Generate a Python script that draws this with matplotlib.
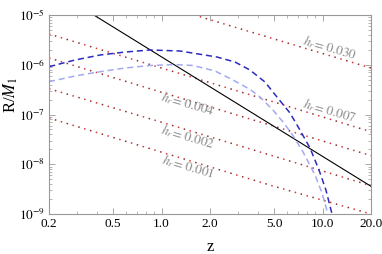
import numpy as np
import matplotlib.pyplot as plt
from matplotlib.ticker import FixedLocator, NullFormatter, LogLocator

plt.rcParams['font.family'] = ['Liberation Serif', 'DejaVu Serif']
plt.rcParams['mathtext.fontset'] = 'stix'

# red dotted curves, one per h_r (values read at z = 0.2, 1, 5, 20)
z_h = [0.2, 1.0, 5.0, 20.0]
h_vals = ['0.030', '0.007', '0.004', '0.002', '0.001']
r_h030 = [7.6e-5, 1.58e-5, 3.3e-6, 8.6e-7]
r_h007 = [4.15e-6, 8.6e-7, 1.78e-7, 4.5e-8]
r_h004 = [1.37e-6, 2.8e-7, 5.8e-8, 1.49e-8]
r_h002 = [3.3e-7, 7.0e-8, 1.45e-8, 3.7e-9]
r_h001 = [8.5e-8, 1.75e-8, 3.6e-9, 1.0e-9]

# black solid line
z_black = [0.2, 20.0]
r_black = [3.6e-5, 3.6e-9]

# dark blue dashed
z_dark = [0.2, 0.29, 0.415, 0.593, 0.848, 1.30, 2.21, 2.86, 3.54, 4.39, 5.21,
          6.28, 7.24, 8.36, 9.51, 10.5, 11.45, 12.1]
r_dark = [9.14e-7, 1.245e-6, 1.57e-6, 1.80e-6, 1.98e-6, 1.89e-6, 1.43e-6,
          1.135e-6, 7.84e-7, 4.5e-7, 2.25e-7, 1.07e-7, 4.88e-8, 2.12e-8,
          7.66e-9, 3.03e-9, 1.0e-9, 5e-10]

# light blue dashed
z_light = [0.2, 0.29, 0.415, 0.593, 0.848, 1.213, 1.57, 2.15, 2.78, 3.54, 4.09,
           4.92, 5.68, 6.46, 7.57, 8.98, 9.93, 10.8, 11.4]
r_light = [4.56e-7, 5.94e-7, 7.25e-7, 8.6e-7, 9.66e-7, 1.01e-6, 9.66e-7,
           7.49e-7, 4.94e-7, 3.2e-7, 2.25e-7, 1.23e-7, 7.07e-8, 4.05e-8,
           1.76e-8, 6.08e-9, 2.64e-9, 1.0e-9, 5e-10]

fig = plt.figure(figsize=(3.82, 2.54), dpi=100)
ax = fig.add_axes([49/382, 1-214/254, 322/382, 199/254])

red_curves = [r_h030, r_h007, r_h004, r_h002, r_h001]
for r in red_curves:
    ax.plot(z_h, r, color='#d43a3a', lw=1.1, linestyle=(0, (1, 7)))
    ax.plot(z_h, r, color='#8a3030', lw=1.1, linestyle=(4, (1, 7)))

ax.plot(z_black, r_black, color='black', lw=0.8)
ax.plot(z_dark, r_dark, color='#2b2bc0', lw=1.1, linestyle=(0, (4, 2.5)))
ax.plot(z_light, r_light, color='#a4aaf0', lw=1.1, linestyle=(0, (4, 2.5)))

# labels for h_r
label_pos = [(11.1, 2.17e-6), (11.1, 1.17e-7), (1.46, 1.62e-7), (1.46, 3.53e-8), (1.46, 8.8e-9)]
for h, (xz, yr) in zip(h_vals, label_pos):
    ax.text(xz, yr, r'$h_r\! =\, \mathit{' + h + '}$', color='#8c8c8c', fontsize=9.5,
            rotation=-16, ha='center', va='center')

ax.set_xscale('log')
ax.set_yscale('log')
ax.set_xlim(0.2, 20)
ax.set_ylim(1e-9, 1e-5)

xt = [0.2, 0.5, 1.0, 2.0, 5.0, 10.0, 20.0]
ax.xaxis.set_major_locator(FixedLocator(xt))
ax.set_xticklabels(['%.1f' % v for v in xt])
minor_x = [0.3, 0.4, 0.6, 0.7, 0.8, 0.9, 3, 4, 6, 7, 8, 9]
ax.xaxis.set_minor_locator(FixedLocator(minor_x))
ax.xaxis.set_minor_formatter(NullFormatter())

ax.yaxis.set_major_locator(FixedLocator([1e-9, 1e-8, 1e-7, 1e-6, 1e-5]))
ax.set_yticklabels([r'$10^{-9}$', r'$10^{-8}$', r'$10^{-7}$', r'$10^{-6}$', r'$10^{-5}$'])
ax.yaxis.set_minor_locator(LogLocator(base=10, subs=np.arange(2, 10), numticks=20))
ax.yaxis.set_minor_formatter(NullFormatter())

ax.tick_params(which='both', direction='in', top=True, right=True,
               color='#999999', labelsize=9.5, pad=3)
ax.tick_params(which='major', length=4, width=0.6)
ax.tick_params(which='minor', length=2, width=0.5)
for s in ax.spines.values():
    s.set_color('#999999')
    s.set_linewidth(0.8)

ax.set_xlabel('z', fontsize=12)
ax.xaxis.set_label_coords(0.5, -0.125)
ax.set_ylabel(r'R/$M_1$', fontsize=12)
ax.yaxis.set_label_coords(-0.09, 0.6)

fig.savefig('out.png', dpi=100)
